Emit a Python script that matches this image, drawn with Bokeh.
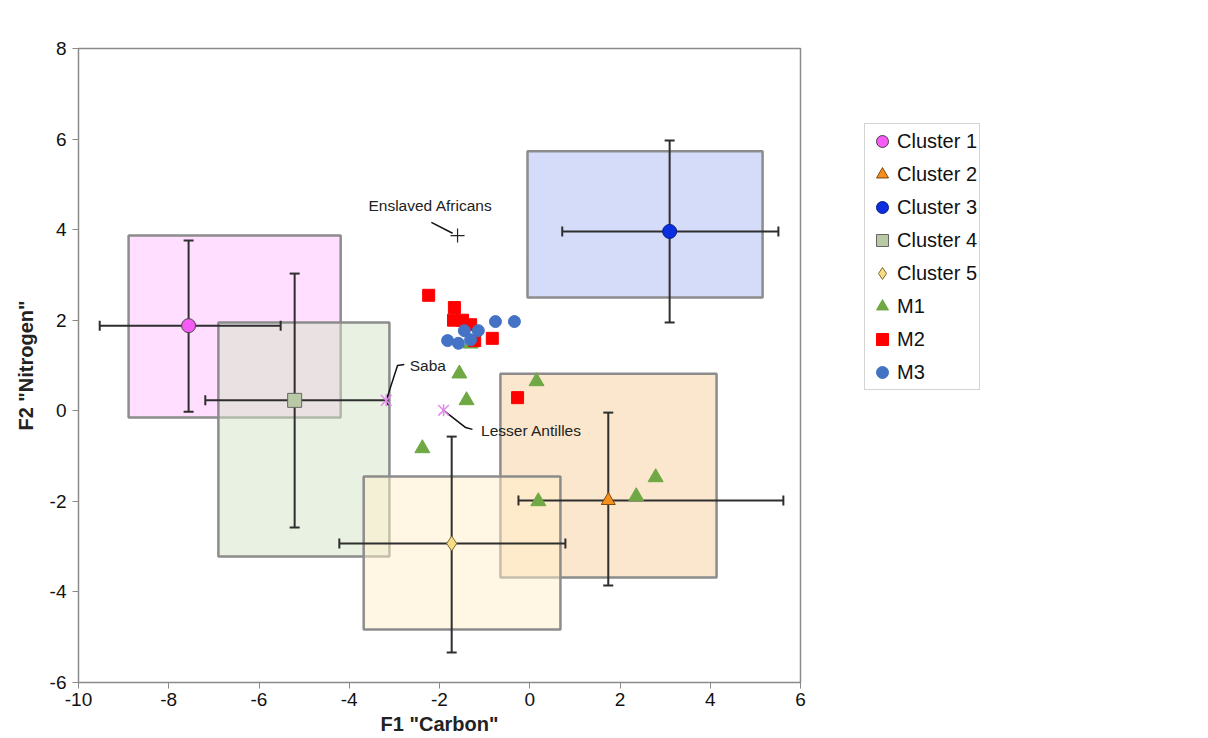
from bokeh.plotting import figure
from bokeh.models import ColumnDataSource, Legend, LegendItem, FixedTicker
from bokeh.core.properties import value
from bokeh.embed import file_html
from bokeh.resources import INLINE

# ---------------- data ----------------
cluster_names = ["Cluster 1", "Cluster 2", "Cluster 3", "Cluster 4", "Cluster 5"]
cluster_x = [-7.56, 1.74, 3.10, -5.21, -1.73]
cluster_y = [1.88, -1.98, 3.96, 0.23, -2.93]
cluster_x_lo = [-9.53, -0.25, 0.72, -7.19, -4.22]
cluster_x_hi = [-5.52, 5.62, 5.51, -3.15, 0.79]
cluster_y_lo = [-0.02, -3.86, 1.95, -2.58, -5.34]
cluster_y_hi = [3.76, -0.04, 5.97, 3.03, -0.57]
box_left = [-8.89, -0.65, -0.05, -6.90, -3.68]
box_right = [-4.19, 4.14, 5.16, -3.11, 0.68]
box_top = [3.87, 0.82, 5.73, 1.95, -1.45]
box_bottom = [-0.15, -3.68, 2.50, -3.22, -4.83]

m1_x = [-1.31, -1.56, -1.40, -2.38, 0.15, 0.19, 2.36, 2.79]
m1_y = [1.48, 0.82, 0.23, -0.83, 0.65, -2.00, -1.89, -1.47]
m2_x = [-2.24, -1.67, -1.69, -1.49, -1.31, -1.22, -0.83, -0.27]
m2_y = [2.55, 2.28, 2.00, 2.00, 1.90, 1.55, 1.60, 0.29]
m3_x = [-0.76, -0.34, -1.45, -1.14, -1.82, -1.58, -1.31]
m3_y = [1.97, 1.97, 1.77, 1.77, 1.55, 1.49, 1.57]

ref_names = ["Saba", "Lesser Antilles"]
ref_x = [-3.18, -1.91]
ref_y = [0.23, 0.01]
africa_x = [-1.60]
africa_y = [3.87]

saba_line_x = [-3.18, -2.93, -2.78]
saba_line_y = [0.23, 1.00, 1.02]
la_line_x = [-1.91, -1.42, -1.27]
la_line_y = [0.01, -0.37, -0.41]
af_line_x = [-2.18, -1.71]
af_line_y = [4.16, 3.92]
label_texts = ["Saba", "Lesser Antilles", "Enslaved Africans"]
label_x = [-2.66, -1.08, -2.20]
label_y = [1.00, -0.43, 4.53]

x_ticks = [-10, -8, -6, -4, -2, 0, 2, 4, 6]
y_ticks = [-6, -4, -2, 0, 2, 4, 6, 8]

# ---------------- styles ----------------
marker_fill = ["#F55CF5", "#F5901E", "#0A2EE0", "#B9C9A5", "#F8DD86"]
marker_line = ["#444444", "#7A4A10", "#0A1F80", "#666666", "#7A6A30"]
marker_type = ["circle", "triangle", "circle", "square", "diamond"]
box_fill = ["#FFBDFF", "#F7CF9B", "#ABB9F5", "#D3E3C5", "#FFEFC9"]

FONT = "Liberation Sans"

p = figure(frame_width=722, frame_height=634, x_range=(-10, 6), y_range=(-6, 8),
           output_backend="svg", toolbar_location=None,
           min_border_left=78, min_border_top=48, min_border_right=10,
           min_border_bottom=50)
p.xgrid.visible = False
p.ygrid.visible = False
p.outline_line_color = "#8A8A8A"
p.outline_line_width = 1.5

for ax in (p.xaxis, p.yaxis):
    ax.axis_line_color = "#8A8A8A"
    ax.major_tick_line_color = "#8A8A8A"
    ax.major_tick_in = 0
    ax.major_tick_out = 6
    ax.minor_tick_line_color = None
    ax.major_label_text_font = FONT
    ax.major_label_text_font_size = "19px"
    ax.major_label_text_color = "#111111"
    ax.axis_label_text_font = FONT
    ax.axis_label_text_font_size = "20px"
    ax.axis_label_text_font_style = "bold"
    ax.axis_label_text_color = "#222222"
p.xaxis.ticker = FixedTicker(ticks=x_ticks)
p.yaxis.ticker = FixedTicker(ticks=y_ticks)
p.xaxis.major_label_overrides = {t: str(t) for t in x_ticks}
p.yaxis.major_label_overrides = {t: str(t) for t in y_ticks}
p.xaxis.axis_label = 'F1 "Carbon"'
p.yaxis.axis_label = 'F2 "Nitrogen"'
p.xaxis.axis_label_standoff = 4
p.yaxis.axis_label_standoff = 10
p.xaxis.major_label_standoff = 4
p.yaxis.major_label_standoff = 6

# boxes
box_src = ColumnDataSource(dict(left=box_left, right=box_right, top=box_top,
                                bottom=box_bottom, fill=box_fill))
p.quad(left="left", right="right", top="top", bottom="bottom", source=box_src,
       fill_color="fill", fill_alpha=0.5, line_color="#8C8C8C", line_width=2.5)

# error bars (segments + caps)
EB = "#2E2E2E"
err_src = ColumnDataSource(dict(x=cluster_x, y=cluster_y, xlo=cluster_x_lo,
                                xhi=cluster_x_hi, ylo=cluster_y_lo, yhi=cluster_y_hi))
p.segment(x0="xlo", x1="xhi", y0="y", y1="y", source=err_src, line_color=EB, line_width=2)
p.segment(x0="x", x1="x", y0="ylo", y1="yhi", source=err_src, line_color=EB, line_width=2)
for col in ("xlo", "xhi"):
    p.scatter(x=col, y="y", source=err_src, marker="dash", size=10, angle=1.5708,
              line_color=EB, line_width=2)
for col in ("ylo", "yhi"):
    p.scatter(x="x", y=col, source=err_src, marker="dash", size=10,
              line_color=EB, line_width=2)

# leader lines
for lx, ly in ((saba_line_x, saba_line_y), (la_line_x, la_line_y), (af_line_x, af_line_y)):
    p.line(lx, ly, line_color="#111111", line_width=1.5)

# reference points (star-like markers)
p.scatter(ref_x, ref_y, marker="x", size=15, line_color="#E08BEA", line_width=1.5)
p.scatter(ref_x, ref_y, marker="dash", size=12, angle=1.5708, line_color="#E08BEA",
          line_width=1.5)
p.scatter(africa_x, africa_y, marker="cross", size=14, line_color="#222222", line_width=1.2)

p.text(label_x[:2], label_y[:2], text=label_texts[:2], text_font=value(FONT),
       text_font_size="15.5px", text_color="#222222", text_baseline="middle",
       text_align="left")
p.text(label_x[2:], label_y[2:], text=label_texts[2:], text_font=value(FONT),
       text_font_size="15.5px", text_color="#222222", text_baseline="middle",
       text_align="center")

# M series
r_m1 = p.scatter(m1_x, m1_y, marker="triangle", size=15, fill_color="#6FA844",
                 line_color="#6FA844")
r_m2 = p.scatter(m2_x, m2_y, marker="square", size=12, fill_color="#FF0000",
                 line_color="#FF0000")
r_m3 = p.scatter(m3_x, m3_y, marker="circle", size=12, fill_color="#4472C4",
                 line_color="#4472C4")

# cluster centres
cl_renderers = []
for i in range(5):
    sz = 14 if marker_type[i] != "diamond" else 15
    r = p.scatter([cluster_x[i]], [cluster_y[i]], marker=marker_type[i], size=sz,
                  fill_color=marker_fill[i], line_color=marker_line[i], line_width=1)
    cl_renderers.append(r)

items = [LegendItem(label=cluster_names[i], renderers=[cl_renderers[i]]) for i in range(5)]
items += [LegendItem(label="M1", renderers=[r_m1]),
          LegendItem(label="M2", renderers=[r_m2]),
          LegendItem(label="M3", renderers=[r_m3])]
legend = Legend(items=items, location=(64, 292), label_text_font=FONT,
                label_text_font_size="20px", label_text_color="#111111",
                border_line_color="#AAAAAA", border_line_width=1.5,
                padding=2, spacing=3, glyph_width=30, glyph_height=30,
                label_standoff=-8, margin=0, label_height=20)
p.add_layout(legend, "right")

open("out.html", "w").write(file_html(p, INLINE))
